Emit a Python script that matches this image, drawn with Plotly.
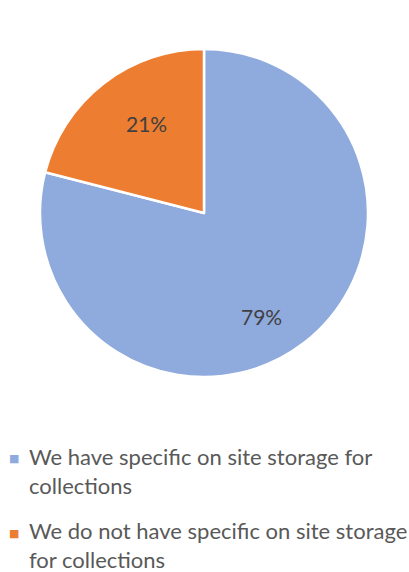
import math
import plotly.graph_objects as go

labels = [
    "We have specific on site storage for<br>collections",
    "We do not have specific on site storage<br>for collections",
]
values = [79, 21]
colors = ["#8FAADC", "#ED7D31"]

W, H = 409, 572
FONT = "Lato"

# pie placement (pixels)
cx, cy, r = 204, 213, 164

fig = go.Figure(
    go.Pie(
        labels=labels,
        values=values,
        sort=False,
        direction="clockwise",
        rotation=0,
        marker=dict(colors=colors, line=dict(color="white", width=2.5)),
        textinfo="none",
        domain=dict(x=[(cx - r) / W, (cx + r) / W], y=[1 - (cy + r) / H, 1 - (cy - r) / H]),
        hoverinfo="label+percent",
        showlegend=False,
    )
)

# percentage labels, placed along each slice's mid angle
total = sum(values)
cum = 0
for v in values:
    mid = 2 * math.pi * (cum + v / 2) / total
    cum += v
    lx = cx + 0.8 * r * math.sin(mid)
    ly = cy - 0.8 * r * math.cos(mid)
    fig.add_annotation(
        x=lx / W, y=1 - ly / H, xref="paper", yref="paper",
        text=f"{round(100 * v / total)}%", showarrow=False,
        font=dict(family=FONT, size=21, color="#404040"),
    )

# legend drawn as annotations so the marker sits on the first line
for i, (lab, col) in enumerate(zip(labels, colors)):
    fig.add_annotation(
        x=14 / W, y=1 - (459 + i * 74) / H, xref="paper", yref="paper",
        text="■", showarrow=False, xanchor="center", yanchor="middle",
        font=dict(family="DejaVu Sans", size=11, color=col),
    )
    fig.add_annotation(
        x=27 / W, y=1 - (441 + i * 74) / H, xref="paper", yref="paper",
        text=lab, showarrow=False, xanchor="left", yanchor="top", align="left",
        font=dict(family=FONT, size=22, color="#595959"),
    )

fig.update_layout(
    width=W,
    height=H,
    margin=dict(l=0, r=0, t=0, b=0),
    paper_bgcolor="white",
    font=dict(family=FONT, color="#595959"),
)

fig.write_html(
    "out.html",
    config={"displayModeBar": False},
    post_script="document.body.style.margin='0';",
)
